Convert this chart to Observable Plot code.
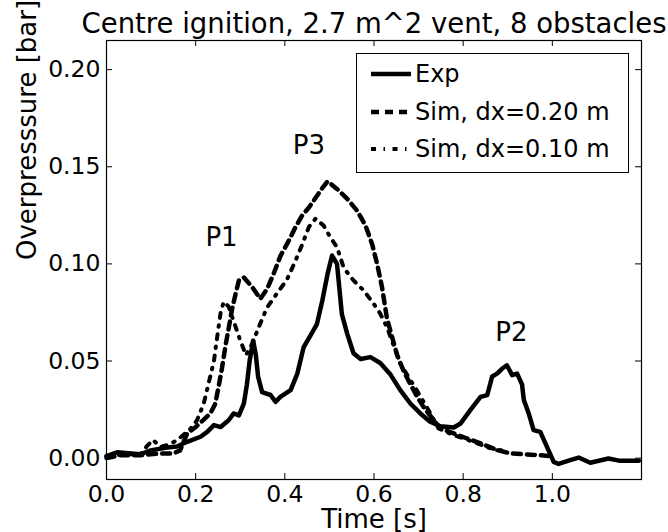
<!DOCTYPE html>
<html><head><meta charset="utf-8">
<script src="https://cdn.jsdelivr.net/npm/d3@7"></script>
<script src="https://cdn.jsdelivr.net/npm/@observablehq/plot@0.6"></script>
<style>
body{margin:0;background:#fff;}
#wrap{position:relative;width:668px;height:532px;font-family:"DejaVu Sans";overflow:hidden;}
#legend{position:absolute;left:356px;top:53px;width:271px;height:118px;border:1px solid #000;background:#fff;}
.row{position:absolute;left:0;height:30px;width:271px;}
.row svg{position:absolute;left:13px;top:0;}
.row span{position:absolute;left:58px;top:0;line-height:30px;font-size:24px;color:#000;white-space:nowrap;}
</style></head>
<body><div id="wrap"></div>
<script>
const title = "Centre ignition, 2.7 m^2 vent, 8 obstacles";
const xLabel = "Time [s]";
const yLabel = "Overpresssure [bar]";
const xTicks = [0, 0.2, 0.4, 0.6, 0.8, 1.0];
const yTicks = [0, 0.05, 0.10, 0.15, 0.20];
const seriesNames = ["Exp", "Sim, dx=0.20 m", "Sim, dx=0.10 m"];

const expT = [0.000,0.024,0.050,0.076,0.099,0.136,0.158,0.181,0.211,0.226,0.241,0.256,0.274,0.285,0.297,0.308,0.315,0.321,0.329,0.335,0.340,0.349,0.368,0.379,0.390,0.413,0.428,0.442,0.457,0.472,0.484,0.496,0.506,0.517,0.528,0.540,0.554,0.570,0.592,0.614,0.637,0.659,0.682,0.704,0.726,0.749,0.779,0.794,0.816,0.839,0.854,0.865,0.876,0.887,0.898,0.910,0.921,0.932,0.936,0.947,0.958,0.973,0.988,1.003,1.014,1.040,1.059,1.085,1.126,1.152,1.194];
const expV = [0.001,0.003,0.0025,0.002,0.004,0.0055,0.006,0.0084,0.011,0.0135,0.017,0.016,0.0195,0.023,0.022,0.028,0.038,0.050,0.0605,0.053,0.042,0.034,0.0325,0.029,0.0315,0.035,0.0435,0.057,0.063,0.069,0.081,0.095,0.1043,0.100,0.074,0.064,0.054,0.051,0.052,0.049,0.043,0.035,0.028,0.023,0.0187,0.0164,0.0158,0.0178,0.0247,0.0315,0.0324,0.042,0.0435,0.046,0.0478,0.0427,0.0435,0.038,0.030,0.023,0.0144,0.0135,0.0058,-0.0019,-0.003,-0.001,0.0003,-0.0024,-0.0002,-0.0014,-0.0014];

const sim20T = [0.000,0.031,0.076,0.121,0.150,0.165,0.181,0.200,0.233,0.244,0.252,0.259,0.267,0.274,0.282,0.289,0.297,0.308,0.327,0.345,0.360,0.375,0.390,0.409,0.424,0.439,0.454,0.469,0.484,0.496,0.517,0.540,0.562,0.581,0.596,0.607,0.618,0.629,0.641,0.652,0.667,0.682,0.697,0.711,0.734,0.749,0.779,0.809,0.839,0.872,0.906,0.936,0.973,1.000];
const sim20V = [0.000,0.0015,0.0015,0.0024,0.0024,0.004,0.0127,0.016,0.023,0.028,0.0375,0.0463,0.058,0.0668,0.0771,0.084,0.0915,0.093,0.088,0.082,0.087,0.095,0.104,0.112,0.119,0.125,0.129,0.134,0.139,0.1425,0.1386,0.1335,0.1274,0.1197,0.110,0.100,0.088,0.072,0.062,0.053,0.0445,0.038,0.0315,0.0264,0.0195,0.0153,0.0127,0.0101,0.0076,0.0045,0.0024,0.002,0.0015,0.001];

const sim10T = [0.000,0.050,0.076,0.090,0.104,0.121,0.140,0.158,0.188,0.203,0.218,0.229,0.241,0.248,0.256,0.263,0.274,0.282,0.289,0.300,0.313,0.327,0.342,0.360,0.383,0.405,0.424,0.439,0.454,0.469,0.487,0.502,0.517,0.532,0.554,0.577,0.599,0.614,0.629,0.644,0.659,0.674,0.697,0.719,0.745,0.779,0.809,0.839,0.872,0.885];
const sim10V = [0.001,0.002,0.002,0.006,0.0094,0.0058,0.007,0.0092,0.0150,0.0195,0.028,0.0385,0.050,0.062,0.075,0.0805,0.078,0.0726,0.068,0.0606,0.053,0.059,0.0677,0.0775,0.085,0.092,0.1017,0.110,0.119,0.1233,0.1197,0.1137,0.1086,0.098,0.0915,0.0863,0.0795,0.0744,0.0675,0.058,0.0487,0.043,0.0345,0.0260,0.0153,0.0118,0.0095,0.007,0.004,0.004];

const peakText = ["P1", "P2", "P3"];
const peakX = [0.258, 0.908, 0.454];
const peakY = [0.1135, 0.0648, 0.161];

const toRows = (T, V) => T.map((t, i) => ({t, v: V[i]}));
const expData = toRows(expT, expV);
const sim20Data = toRows(sim20T, sim20V);
const sim10Data = toRows(sim10T, sim10V);
const peaks = peakText.map((s, i) => ({s, x: peakX[i], y: peakY[i]}));

const W = 668, H = 532, ml = 106, mr = 27, mt = 40, mb = 53, tl = 6;
const fh = H - mt - mb, fw = W - ml - mr;
const styles = [
  {strokeWidth: 4.5, strokeDasharray: null},
  {strokeWidth: 4.5, strokeDasharray: "8,6"},
  {strokeWidth: 4, strokeDasharray: "5,7.5,1.5,7.5"}
];

const chart = Plot.plot({
  width: W, height: H,
  marginLeft: ml, marginRight: mr, marginTop: mt, marginBottom: mb,
  style: {fontFamily: "DejaVu Sans", background: "white", color: "black", overflow: "visible"},
  x: {domain: [0, 1.2]},
  y: {domain: [-0.011, 0.215]},
  marks: [
    Plot.axisX(xTicks, {tickSize: 0, tickPadding: 6, tickFormat: d3.format(".1f"), label: null, fontSize: 23.5}),
    Plot.axisY(yTicks, {tickSize: 0, tickPadding: 6, tickFormat: d3.format(".2f"), label: null, fontSize: 23.5}),
    Plot.tickX(xTicks, {x: d => d, stroke: "black", insetTop: fh - tl}),
    Plot.tickX(xTicks, {x: d => d, stroke: "black", insetBottom: fh - tl}),
    Plot.tickY(yTicks, {y: d => d, stroke: "black", insetRight: fw - tl}),
    Plot.tickY(yTicks, {y: d => d, stroke: "black", insetLeft: fw - tl}),
    Plot.line(expData, {x: "t", y: "v", stroke: "black", ...styles[0], strokeLinejoin: "round"}),
    Plot.line(sim20Data, {x: "t", y: "v", stroke: "black", ...styles[1], strokeLinejoin: "round"}),
    Plot.line(sim10Data, {x: "t", y: "v", stroke: "black", ...styles[2], strokeLinejoin: "round"}),
    Plot.text(peaks, {x: "x", y: "y", text: "s", fontSize: 26, fill: "black", textAnchor: "middle", lineAnchor: "middle"}),
    Plot.frame({stroke: "black", strokeWidth: 1.2}),
    Plot.text([title], {frameAnchor: "top", dy: -8, lineAnchor: "bottom", fontSize: 27.5, fill: "black"}),
    Plot.text([xLabel], {frameAnchor: "bottom", dy: 48, lineAnchor: "bottom", fontSize: 26, fill: "black"}),
    Plot.text([yLabel], {frameAnchor: "left", dx: -79, rotate: -90, lineAnchor: "middle", fontSize: 26, fill: "black"})
  ]
});
const wrap = document.getElementById("wrap");
wrap.appendChild(chart);

// legend
const legend = document.createElement("div");
legend.id = "legend";
const rowCenters = [20, 58, 95];
seriesNames.forEach((name, i) => {
  const row = document.createElement("div");
  row.className = "row";
  row.style.top = (rowCenters[i] - 15) + "px";
  const st = styles[i];
  row.innerHTML = `<svg width="42" height="30"><line x1="1" y1="15" x2="41" y2="15" stroke="black" stroke-width="${st.strokeWidth}" ${st.strokeDasharray ? `stroke-dasharray="${st.strokeDasharray}"` : ""}/></svg><span>${name}</span>`;
  legend.appendChild(row);
});
wrap.appendChild(legend);
</script>
</body></html>
